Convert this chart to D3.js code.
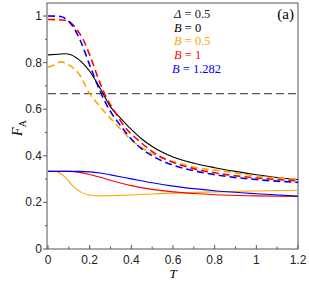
<!DOCTYPE html>
<html>
<head>
<meta charset="utf-8">
<script src="https://cdn.jsdelivr.net/npm/d3@7"></script>
<style>
  body { margin: 0; background: #fff; }
  svg { display: block; }
</style>
</head>
<body>
<div id="chart"></div>
<script>
const tSolidLow = [0, 0.04, 0.08, 0.12, 0.16, 0.2, 0.25, 0.3, 0.4, 0.5, 0.6, 0.8, 1.0, 1.2];
const orangeSolid = [0.333, 0.332, 0.31, 0.27, 0.243, 0.232, 0.228, 0.229, 0.232, 0.236, 0.240, 0.245, 0.249, 0.252];

const tRedSolid = [0, 0.1, 0.15, 0.2, 0.25, 0.3, 0.4, 0.5, 0.6, 0.7, 0.8, 1.0, 1.2];
const redSolid = [0.333, 0.333, 0.329, 0.32, 0.308, 0.295, 0.272, 0.256, 0.245, 0.238, 0.233, 0.228, 0.225];

const tBlueSolid = [0, 0.15, 0.2, 0.25, 0.3, 0.4, 0.5, 0.6, 0.7, 0.8, 1.0, 1.2];
const blueSolid = [0.333, 0.333, 0.331, 0.326, 0.318, 0.301, 0.284, 0.27, 0.259, 0.25, 0.237, 0.227];

const tBlack = [0, 0.05, 0.08, 0.11, 0.14, 0.17, 0.2, 0.25, 0.3, 0.35, 0.4, 0.45, 0.5, 0.6, 0.7, 0.8, 0.9, 1.0, 1.1, 1.2];
const blackSolid = [0.833, 0.836, 0.838, 0.834, 0.818, 0.795, 0.763, 0.69, 0.61, 0.56, 0.513, 0.472, 0.44, 0.395, 0.368, 0.349, 0.333, 0.319, 0.307, 0.298];

const tBlueDash = [0, 0.06, 0.09, 0.12, 0.154, 0.2, 0.25, 0.3, 0.346, 0.4, 0.45, 0.52, 0.6, 0.7, 0.8, 1.0, 1.2];
const blueDash = [1.0, 0.998, 0.985, 0.955, 0.897, 0.79, 0.677, 0.59, 0.532, 0.472, 0.43, 0.39, 0.36, 0.336, 0.319, 0.298, 0.286];

const tRedDash = [0, 0.08, 0.11, 0.14, 0.17, 0.2, 0.25, 0.282, 0.32, 0.362, 0.442, 0.538, 0.6, 0.7, 0.8, 1.0, 1.2];
const redDash = [0.985, 0.982, 0.97, 0.94, 0.897, 0.833, 0.712, 0.647, 0.59, 0.532, 0.46, 0.397, 0.372, 0.345, 0.327, 0.305, 0.293];

const tOrangeDash = [0, 0.03, 0.06, 0.1, 0.15, 0.2, 0.25, 0.33, 0.41, 0.48, 0.554, 0.7, 0.86, 1.0, 1.2];
const orangeDash = [0.78, 0.79, 0.803, 0.79, 0.75, 0.667, 0.611, 0.532, 0.46, 0.418, 0.389, 0.352, 0.332, 0.313, 0.299];

const threshold = 2 / 3;

const xTicks = [0, 0.2, 0.4, 0.6, 0.8, 1, 1.2];
const yTicks = [0, 0.2, 0.4, 0.6, 0.8, 1];
const xMinor = [0.1, 0.3, 0.5, 0.7, 0.9, 1.1];
const yMinor = [0.1, 0.3, 0.5, 0.7, 0.9];

const legendLabels = ['B = 0', 'B = 0.5', 'B = 1', 'B = 1.282'];
const legendColors = ['#000000', '#FFA500', '#FF0000', '#0000FF'];

const width = 309, height = 284;
const margin = { left: 48, right: 11, top: 3, bottom: 35 };

const svg = d3.select('#chart').append('svg')
  .attr('width', width)
  .attr('height', height);

const x = d3.scaleLinear().domain([0, 1.2]).range([margin.left, width - margin.right]);
const y = d3.scaleLinear().domain([0, 1]).range([249, 16]);
const yTop = margin.top;

// frame
svg.append('rect')
  .attr('x', margin.left - 1)
  .attr('y', yTop)
  .attr('width', x(1.2) - margin.left + 1)
  .attr('height', y(0) - yTop)
  .attr('fill', 'none')
  .attr('stroke', '#555')
  .attr('stroke-width', 1);

const tickStyle = sel => sel.attr('stroke', '#555').attr('stroke-width', 1);

// x ticks (inward)
svg.selectAll('.xt').data(xTicks).enter().append('line')
  .attr('x1', d => x(d)).attr('x2', d => x(d))
  .attr('y1', y(0)).attr('y2', y(0) - 4)
  .call(tickStyle);
svg.selectAll('.xm').data(xMinor).enter().append('line')
  .attr('x1', d => x(d)).attr('x2', d => x(d))
  .attr('y1', y(0)).attr('y2', y(0) - 2.5)
  .call(tickStyle);

// y ticks (outward)
svg.selectAll('.yt').data(yTicks).enter().append('line')
  .attr('x1', margin.left - 1).attr('x2', margin.left - 5)
  .attr('y1', d => y(d)).attr('y2', d => y(d))
  .call(tickStyle);
svg.selectAll('.ym').data(yMinor).enter().append('line')
  .attr('x1', margin.left - 1).attr('x2', margin.left - 3)
  .attr('y1', d => y(d)).attr('y2', d => y(d))
  .call(tickStyle);

const tickFont = 'Liberation Sans, Arial, sans-serif';

svg.selectAll('.xl').data(xTicks).enter().append('text')
  .attr('x', d => x(d))
  .attr('y', y(0) + 15)
  .attr('text-anchor', 'middle')
  .attr('font-family', tickFont)
  .attr('font-size', 12)
  .attr('fill', '#222')
  .text(d => d3.format('~g')(d));

svg.selectAll('.yl').data(yTicks).enter().append('text')
  .attr('x', margin.left - 6)
  .attr('y', d => y(d) + 4)
  .attr('text-anchor', 'end')
  .attr('font-family', tickFont)
  .attr('font-size', 12)
  .attr('fill', '#222')
  .text(d => d3.format('~g')(d));

// axis titles
svg.append('text')
  .attr('x', x(0.6))
  .attr('y', 278)
  .attr('text-anchor', 'middle')
  .attr('font-family', 'Liberation Serif, Times New Roman, serif')
  .attr('font-style', 'italic')
  .attr('font-size', 13)
  .text('T');

const ylab = svg.append('text')
  .attr('transform', 'translate(22, 128) rotate(-90)')
  .attr('text-anchor', 'middle')
  .attr('font-family', 'Liberation Serif, Times New Roman, serif')
  .attr('font-size', 14);
ylab.append('tspan').attr('font-style', 'italic').text('F');
ylab.append('tspan').attr('font-size', 10).attr('dy', 4).text('A');

// threshold line
svg.append('line')
  .attr('x1', x(0)).attr('x2', x(1.2))
  .attr('y1', y(threshold)).attr('y2', y(threshold))
  .attr('stroke', '#555')
  .attr('stroke-width', 1.3)
  .attr('stroke-dasharray', '8,4');

const line = d3.line()
  .x(d => x(d[0]))
  .y(d => y(d[1]))
  .curve(d3.curveMonotoneX);

const series = [
  { t: tSolidLow, v: orangeSolid, color: '#FFA500', dash: null },
  { t: tRedSolid, v: redSolid, color: '#FF0000', dash: null },
  { t: tBlueSolid, v: blueSolid, color: '#0000FF', dash: null },
  { t: tBlack, v: blackSolid, color: '#000000', dash: null },
  { t: tOrangeDash, v: orangeDash, color: '#FFA500', dash: '7,4' },
  { t: tRedDash, v: redDash, color: '#FF0000', dash: '7,4' },
  { t: tBlueDash, v: blueDash, color: '#0000FF', dash: '7,4' }
];

svg.selectAll('.curve').data(series).enter().append('path')
  .attr('class', 'curve')
  .attr('d', s => line(s.t.map((t, i) => [t, s.v[i]])))
  .attr('fill', 'none')
  .attr('stroke', s => s.color)
  .attr('stroke-width', s => s.dash ? 1.6 : 1.1)
  .attr('stroke-dasharray', s => s.dash);

// legend
const serif = 'Liberation Serif, Times New Roman, serif';
const leg = svg.append('g').attr('font-family', serif).attr('font-size', 12.5);

const d0 = leg.append('text').attr('x', 174).attr('y', 18).attr('fill', '#222');
d0.append('tspan').attr('font-style', 'italic').text('Δ');
d0.append('tspan').text(' = 0.5');

legendLabels.forEach((lab, i) => {
  const t = leg.append('text')
    .attr('x', i === 3 ? 172 : 174)
    .attr('y', 31.5 + i * 13.7)
    .attr('fill', legendColors[i]);
  t.append('tspan').attr('font-style', 'italic').text('B');
  t.append('tspan').text(lab.slice(1));
});

svg.append('text')
  .attr('x', 294)
  .attr('y', 19)
  .attr('text-anchor', 'end')
  .attr('font-family', serif)
  .attr('font-size', 15)
  .text('(a)');
</script>
</body>
</html>
